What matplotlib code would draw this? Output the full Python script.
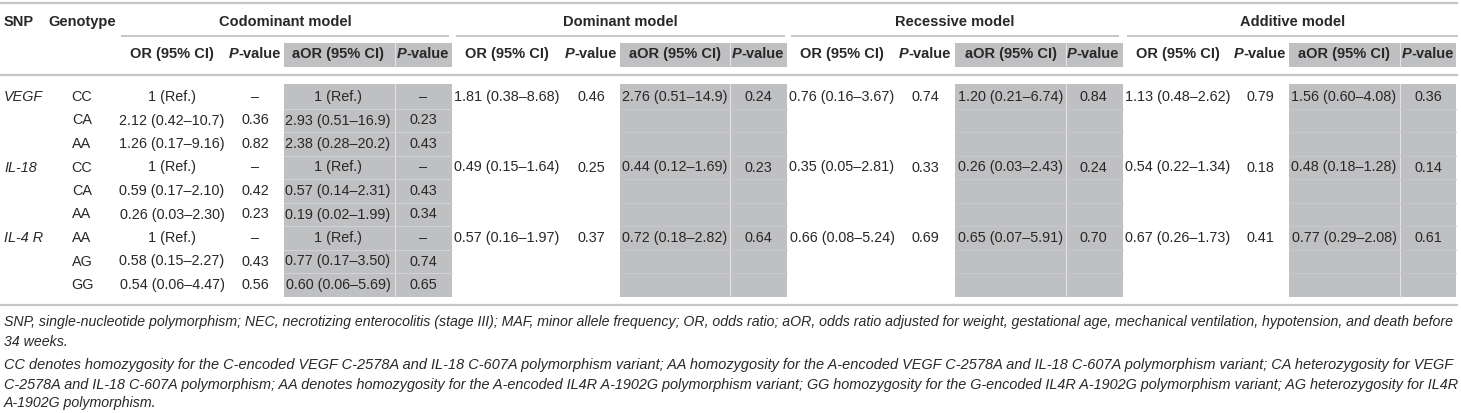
import matplotlib
matplotlib.use("Agg")
import matplotlib.pyplot as plt

# ---------------- data ----------------
snps = ["VEGF", "IL-18", "IL-4 R"]
genotypes = ["CC", "CA", "AA", "CC", "CA", "AA", "AA", "AG", "GG"]

model_names = ["Codominant model", "Dominant model", "Recessive model", "Additive model"]
sub_headers = ["OR (95% CI)", "P-value", "aOR (95% CI)", "P-value"]

codom_or = ["1 (Ref.)", "2.12 (0.42–10.7)", "1.26 (0.17–9.16)",
            "1 (Ref.)", "0.59 (0.17–2.10)", "0.26 (0.03–2.30)",
            "1 (Ref.)", "0.58 (0.15–2.27)", "0.54 (0.06–4.47)"]
codom_p = ["–", "0.36", "0.82", "–", "0.42", "0.23", "–", "0.43", "0.56"]
codom_aor = ["1 (Ref.)", "2.93 (0.51–16.9)", "2.38 (0.28–20.2)",
             "1 (Ref.)", "0.57 (0.14–2.31)", "0.19 (0.02–1.99)",
             "1 (Ref.)", "0.77 (0.17–3.50)", "0.60 (0.06–5.69)"]
codom_ap = ["–", "0.23", "0.43", "–", "0.43", "0.34", "–", "0.74", "0.65"]

dom_or = ["1.81 (0.38–8.68)", "0.49 (0.15–1.64)", "0.57 (0.16–1.97)"]
dom_p = ["0.46", "0.25", "0.37"]
dom_aor = ["2.76 (0.51–14.9)", "0.44 (0.12–1.69)", "0.72 (0.18–2.82)"]
dom_ap = ["0.24", "0.23", "0.64"]

rec_or = ["0.76 (0.16–3.67)", "0.35 (0.05–2.81)", "0.66 (0.08–5.24)"]
rec_p = ["0.74", "0.33", "0.69"]
rec_aor = ["1.20 (0.21–6.74)", "0.26 (0.03–2.43)", "0.65 (0.07–5.91)"]
rec_ap = ["0.84", "0.24", "0.70"]

add_or = ["1.13 (0.48–2.62)", "0.54 (0.22–1.34)", "0.67 (0.26–1.73)"]
add_p = ["0.79", "0.18", "0.41"]
add_aor = ["1.56 (0.60–4.08)", "0.48 (0.18–1.28)", "0.77 (0.29–2.08)"]
add_ap = ["0.36", "0.14", "0.61"]

footnotes = [
    "SNP, single-nucleotide polymorphism; NEC, necrotizing enterocolitis (stage III); MAF, minor allele frequency; OR, odds ratio; aOR, odds ratio adjusted for weight, gestational age, mechanical ventilation, hypotension, and death before",
    "34 weeks.",
    "CC denotes homozygosity for the C-encoded VEGF C-2578A and IL-18 C-607A polymorphism variant; AA homozygosity for the A-encoded VEGF C-2578A and IL-18 C-607A polymorphism variant; CA heterozygosity for VEGF",
    "C-2578A and IL-18 C-607A polymorphism; AA denotes homozygosity for the A-encoded IL4R A-1902G polymorphism variant; GG homozygosity for the G-encoded IL4R A-1902G polymorphism variant; AG heterozygosity for IL4R",
    "A-1902G polymorphism.",
]
footnote_justified = [True, False, True, True, False]

# ---------------- layout ----------------
W, H = 1461, 413
FONT = "Liberation Sans"
TXT = "#2a2728"
GREY = "#bfc0c2"
LINE = "#c6c6c6"
FS_DATA = 10.4
FS_HEAD = 10.5

fig = plt.figure(figsize=(W / 100, H / 100), dpi=100)
ax = fig.add_axes([0, 0, 1, 1])
ax.set_xlim(0, W)
ax.set_ylim(H, 0)
ax.axis("off")
renderer = fig.canvas.get_renderer()

blocks = [
    dict(span=(122, 448), centers=[172, 255, 338, 423], grey=(284, 452), sep=395),
    dict(span=(457, 784), centers=[507, 591, 675, 758], grey=(620, 787), sep=730),
    dict(span=(792, 1118), centers=[842, 925, 1011, 1093], grey=(955, 1123), sep=1066),
    dict(span=(1128, 1457), centers=[1178, 1260, 1344, 1428], grey=(1289, 1456), sep=1400),
]
row0, drow = 97.0, 23.5
row_y = [row0 + i * drow for i in range(9)]
head1_y, head2_y = 22, 54
grey_top, grey_bot = 84, 297
subgrey = (43, 67)

for b in blocks:
    g0, g1 = b["grey"]
    ax.fill_between([g0, g1], subgrey[0], subgrey[1], color=GREY, lw=0, zorder=0)
    ax.fill_between([g0, g1], grey_top, grey_bot, color=GREY, lw=0, zorder=0)
    ax.plot([b["sep"], b["sep"]], [subgrey[0], subgrey[1]], color="#e4e4e6", lw=0.8, zorder=1)
    ax.plot([b["sep"], b["sep"]], [grey_top, grey_bot], color="#e4e4e6", lw=0.8, zorder=1)
    for i in range(1, 9):
        yb = (row_y[i - 1] + row_y[i]) / 2
        col = "#d4d4d6" if b is blocks[0] else "#c9c9cb"
        ax.plot([g0, g1], [yb, yb], color=col, lw=0.7, zorder=1)

ax.plot([0, 1457], [3, 3], color=LINE, lw=1.6)
ax.plot([0, 1457], [75, 75], color=LINE, lw=1.6)
ax.plot([0, 1457], [305, 305], color=LINE, lw=1.6)
for b in blocks:
    ax.plot(list(b["span"]), [36, 36], color=LINE, lw=1.4)


def text(x, y, s, ha="center", **kw):
    kw.setdefault("fontsize", FS_DATA)
    kw.setdefault("color", TXT)
    kw.setdefault("family", FONT)
    return ax.text(x, y, s, ha=ha, va="center", **kw)


def pvalue_header(xc, y):
    t1 = text(0, y, "P", ha="left", fontsize=FS_HEAD, weight="bold", style="italic")
    t2 = text(0, y, "-value", ha="left", fontsize=FS_HEAD, weight="bold")
    w1 = t1.get_window_extent(renderer).width
    w2 = t2.get_window_extent(renderer).width
    x0 = xc - (w1 + w2) / 2
    t1.set_x(x0)
    t2.set_x(x0 + w1)


text(4, head1_y, "SNP", ha="left", fontsize=FS_HEAD, weight="bold")
text(48, head1_y, "Genotype", ha="left", fontsize=FS_HEAD, weight="bold")
for b, name in zip(blocks, model_names):
    text(sum(b["span"]) / 2, head1_y, name, fontsize=FS_HEAD, weight="bold")
    for c, sh in zip(b["centers"], sub_headers):
        if sh == "P-value":
            pvalue_header(c, head2_y)
        else:
            text(c, head2_y, sh, fontsize=FS_HEAD, weight="bold")

for g, name in enumerate(snps):
    text(4, row_y[3 * g], name, ha="left", style="italic")
for i, gt in enumerate(genotypes):
    text(82, row_y[i], gt)

cols = [codom_or, codom_p, codom_aor, codom_ap]
for c, vals in zip(blocks[0]["centers"], cols):
    for i, v in enumerate(vals):
        text(c, row_y[i], v)

for b, cols in zip(blocks[1:], [[dom_or, dom_p, dom_aor, dom_ap],
                                [rec_or, rec_p, rec_aor, rec_ap],
                                [add_or, add_p, add_aor, add_ap]]):
    for c, vals in zip(b["centers"], cols):
        for g, v in enumerate(vals):
            text(c, row_y[3 * g], v)

foot_y = [322, 342, 365, 385, 403]
target_w = 1451
probe = text(0, 0, footnotes[0], ha="left", style="italic", fontsize=10)
base_w = probe.get_window_extent(renderer).width
probe.remove()
fs_foot = 10 * target_w / base_w
for s, y, just in zip(footnotes, foot_y, footnote_justified):
    fs = fs_foot
    if just:
        p = text(0, 0, s, ha="left", style="italic", fontsize=10)
        fs = 10 * target_w / p.get_window_extent(renderer).width
        p.remove()
    text(4, y, s, ha="left", style="italic", fontsize=fs)

fig.savefig("out.png", dpi=100)
